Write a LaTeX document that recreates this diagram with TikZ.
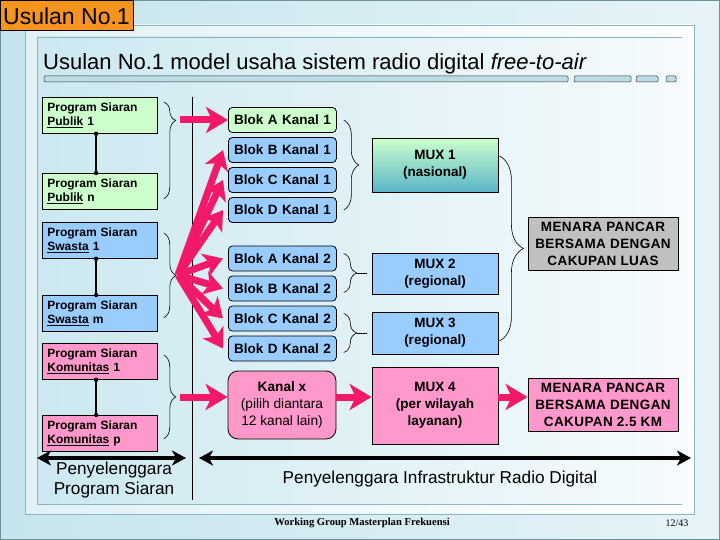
\documentclass[tikz,border=0pt]{standalone}
\usepackage{fontspec}
\setmainfont{Liberation Sans}
\newfontfamily\footfont{Liberation Serif}
\usetikzlibrary{arrows.meta,decorations.pathreplacing,calc}
\definecolor{pgreen}{HTML}{CCFFCC}
\definecolor{pblue}{HTML}{99CCFF}
\definecolor{ppink}{HTML}{FF99CC}
\definecolor{pgray}{HTML}{C0C0C0}
\definecolor{parrow}{HTML}{F2186A}
\definecolor{porange}{HTML}{F7941D}
\definecolor{bgleft}{HTML}{C6E4ED}
\definecolor{bgright}{HTML}{E6F4F8}
\definecolor{inleft}{HTML}{CCE8F0}
\definecolor{inright}{HTML}{F6FBFD}
\definecolor{frameline}{HTML}{8DB5BF}
\definecolor{muxteal}{HTML}{5AB5C8}
\definecolor{barfill}{HTML}{BCDCE6}
\begin{document}
\begin{tikzpicture}[x=1pt,y=-1pt,
 progbox/.style={draw, line width=0.8pt, anchor=north west, minimum width=115pt, minimum height=36pt, inner xsep=5pt, inner ysep=0pt, text width=105pt, align=left, font=\fontsize{12}{14.5}\selectfont\bfseries},
 blokbox/.style={draw, line width=0.8pt, rounded corners=4pt, anchor=west, minimum width=108pt, minimum height=25pt, inner xsep=5pt, inner ysep=0pt, text width=98pt, align=center, font=\fontsize{13.5}{16}\selectfont\bfseries},
 kanalbox/.style={draw, line width=0.8pt, rounded corners=10pt, fill=ppink, minimum width=108pt, minimum height=68pt, inner sep=0pt, align=center, font=\fontsize{13.7}{17}\selectfont},
 muxbox/.style={draw, line width=0.8pt, minimum width=126pt, inner sep=0pt, align=center, font=\fontsize{13.5}{17}\selectfont\bfseries},
 menbox/.style={draw, line width=0.8pt, minimum width=150pt, minimum height=53pt, inner sep=0pt, align=center, font=\fontsize{13.5}{17}\selectfont\bfseries\addfontfeature{LetterSpace=3}},
 brc/.style={decorate, decoration={brace, amplitude=#1}, line width=0.6pt},
 brc/.default=12pt,
 parr/.style={draw=parrow, line width=7pt, -{Stealth[length=22pt,width=26pt,inset=6pt]}},
 zarr/.style={draw=parrow, line width=7pt, -{Stealth[length=19pt,width=24pt,inset=5pt]}},
 barr/.style={line width=4pt, {Stealth[length=14pt,width=15pt,inset=4pt]}-{Stealth[length=14pt,width=15pt,inset=4pt]}},
 dotln/.style={line width=1.8pt},
 bar/.style={draw=black!80, line width=0.5pt, fill=barfill, rounded corners=1.2pt}
]
\useasboundingbox (0,0) rectangle (720,540);
% slide background
\path[left color=bgleft, right color=bgright] (0,0) rectangle (720,540);
\draw[draw=frameline!80!black, line width=0.8pt] (0.5,0.5) rectangle (719.5,539.5);
\path[left color=inleft!60!white, right color=white] (25,25) rectangle (694,514);
\draw[frameline, line width=0.6pt] (25,25) rectangle (694,514);
\path[left color=inleft, right color=inright] (37,37) rectangle (688,504);
\draw[frameline, line width=0.5pt] (682,37) -- (37,37) -- (37,504) -- (682,504);
% label
\node[draw, line width=0.6pt, fill=porange, anchor=north west, minimum width=133pt, minimum height=30pt, inner sep=0pt] (lab) at (0,0) {};
\node[anchor=base west, inner sep=0pt, font=\fontsize{23}{25}\selectfont] (labt) at (3,25) {Usulan No.1};
% title
\node[anchor=base west, inner sep=0pt, font=\fontsize{22}{24}\selectfont] (title) at (43,69.5) {Usulan No.1 model usaha sistem radio digital \textit{free-to-air}};
\draw[bar] (44,76) rectangle (568,82);
\draw[bar] (574,76) rectangle (631,82);
\draw[bar] (636,76) rectangle (658,82);
\draw[bar] (666,76) rectangle (676,82);
% separator
\draw[line width=0.7pt] (192,97) -- (192,500);
% program boxes
\node[progbox, fill=pgreen] (pub1) at (42,97) {Program Siaran\\\underline{Publik} 1};
\node[progbox, fill=pgreen] (pubn) at (42,173) {Program Siaran\\\underline{Publik} n};
\node[progbox, fill=pblue] (sw1) at (42,222) {Program Siaran\\\underline{Swasta} 1};
\node[progbox, fill=pblue] (swm) at (42,295) {Program Siaran\\\underline{Swasta} m};
\node[progbox, fill=ppink] (km1) at (42,343) {Program Siaran\\\underline{Komunitas} 1};
\node[progbox, fill=ppink] (kmp) at (42,415) {Program Siaran\\\underline{Komunitas} p};
% dot connectors
\foreach \a/\b in {pub1/pubn, sw1/swm, km1/kmp}{
  \draw[dotln] ([xshift=-3.8pt]\a.south) -- ([xshift=-3.8pt]\b.north);
  \fill ([xshift=-3.8pt]\a.south) circle (2.2pt);
  \fill ([xshift=-3.8pt]\b.north) circle (2.2pt);
}
% braces of program groups
\draw[decorate, decoration={brace, amplitude=12pt, aspect=0.19}, line width=0.6pt] ($(pub1.north east)+(6,5)$) -- ($(pubn.south east)+(6,-11)$);
\draw[brc] ($(sw1.north east)+(6,11)$) -- ($(swm.south east)+(6,-14)$);
\draw[brc] ($(km1.north east)+(6,12)$) -- ($(kmp.south east)+(6,-13)$);
\coordinate (tp) at (180,120);
\coordinate (ts) at (178,275);
\coordinate (tk) at (180,397);
% blok boxes
\node[blokbox, fill=pgreen] (bA1) at (228,120) {Blok A Kanal 1};
\node[blokbox, fill=pblue] (bB1) at (228,150) {Blok B Kanal 1};
\node[blokbox, fill=pblue] (bC1) at (228,180) {Blok C Kanal 1};
\node[blokbox, fill=pblue] (bD1) at (228,210) {Blok D Kanal 1};
\node[blokbox, fill=pblue] (bA2) at (228,258.5) {Blok A Kanal 2};
\node[blokbox, fill=pblue] (bB2) at (228,288.5) {Blok B Kanal 2};
\node[blokbox, fill=pblue] (bC2) at (228,318.5) {Blok C Kanal 2};
\node[blokbox, fill=pblue] (bD2) at (228,348.5) {Blok D Kanal 2};
\node[kanalbox] (kx) at (282,405) {\textbf{Kanal x}\\(pilih diantara\\12 kanal lain)};
% mux boxes
\node[muxbox, minimum height=54pt, top color=pgreen, bottom color=muxteal] (m1) at (435,165) {MUX 1\\(nasional)};
\node[muxbox, fill=pblue, minimum height=41pt] (m2) at (435,273.5) {MUX 2\\(regional)};
\node[muxbox, fill=pblue, minimum height=42pt] (m3) at (435,333) {MUX 3\\(regional)};
\node[muxbox, fill=ppink, minimum height=77pt] (m4) at (435,405.5) {MUX 4\\(per wilayah\\layanan)};
% menara boxes
\node[menbox, fill=pgray] (t1) at (603,243.5) {MENARA PANCAR\\BERSAMA DENGAN\\CAKUPAN LUAS};
\node[menbox, fill=ppink] (t2) at (603,405) {MENARA PANCAR\\BERSAMA DENGAN\\CAKUPAN 2.5 KM};
% braces of blok groups
\draw[brc=15pt] ($(bA1.east)+(7,0)$) -- ($(bD1.east)+(7,0)$);
\draw[brc=13pt] ($(bA2.east)+(7,-5)$) -- ($(bB2.east)+(7,4)$);
\draw[line width=0.6pt] ($(bA2.east)!0.5!(bB2.east)+(20,0)$) -- ++(10,0);
\draw[brc=13pt] ($(bC2.east)+(7,-5)$) -- ($(bD2.east)+(7,4)$);
\draw[line width=0.6pt] ($(bC2.east)!0.5!(bD2.east)+(20,0)$) -- ++(10,0);
\draw[brc=24pt] ($(m1.east)+(1,-9)$) -- ($(m3.east)+(1,8)$);
% pink arrows
\foreach \b in {bB1,bC1,bD1,bA2,bB2,bC2,bD2}{
  \draw[zarr] (ts) -- ([xshift=-5pt]\b.west);
}
\draw[parr] (tp) -- (bA1.west);
\draw[parr] (tk) -- (kx.west |- tk);
\draw[parr] (kx.east |- tk) -- (m4.west |- tk);
\draw[parr] (m4.east |- tk) -- (t2.west |- tk);
% bottom arrows
\coordinate (l1) at (37,458);
\coordinate (l2) at (186,458);
\coordinate (r1) at (199,458);
\coordinate (r2) at (691,458);
\draw[barr] (l1) -- (l2);
\draw[barr] (r1) -- (r2);
\node[align=center, font=\fontsize{17.2}{20}\selectfont] (lp) at (114,480) {Penyelenggara\\Program Siaran};
\node[font=\fontsize{17.2}{20}\selectfont] (lr) at (440,479) {Penyelenggara Infrastruktur Radio Digital};
% footer
\node[font=\footfont\bfseries\fontsize{10.6}{12}\selectfont] (ft) at (362,523) {Working Group Masterplan Frekuensi};
\node[font=\footfont\fontsize{10}{12}\selectfont] (pg) at (677,523) {12/43};
\end{tikzpicture}
\end{document}
